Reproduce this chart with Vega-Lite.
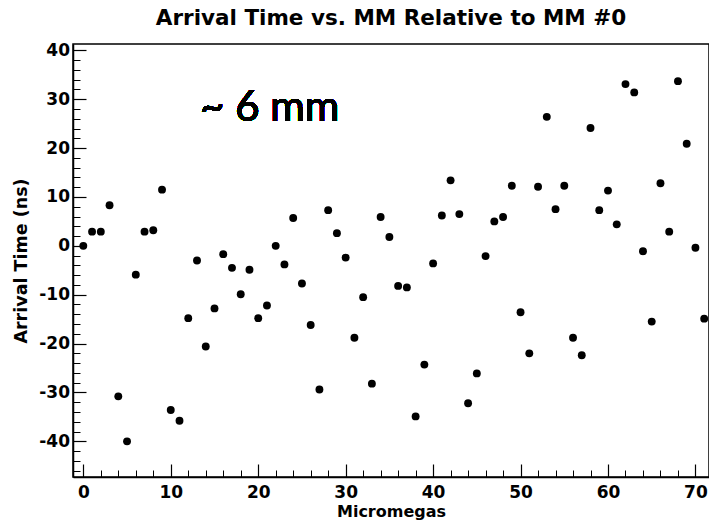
{
  "$schema": "https://vega.github.io/schema/vega-lite/v6.json",
  "width": 636,
  "height": 433,
  "autosize": "none",
  "padding": {"left": 73, "top": 44, "right": 0, "bottom": 45},
  "background": "white",
  "config": {
    "view": {"stroke": "black", "strokeWidth": 1.5},
    "axis": {"grid": false, "labelFlush": false, "labelOverlap": false, "labelBound": false, "tickColor": "black", "domainColor": "black", "labelColor": "black", "titleColor": "black"}
  },
  "title": {"text": "Arrival Time vs. MM Relative to MM #0", "font": "DejaVu Sans", "fontWeight": "bold", "fontSize": 21.5, "color": "black", "anchor": "middle", "offset": 12},
  "data": {"values": [
    {"mm": 0, "t": 0.0}, {"mm": 1, "t": 2.9}, {"mm": 2, "t": 2.9}, {"mm": 3, "t": 8.3},
    {"mm": 4, "t": -30.8}, {"mm": 5, "t": -40.0}, {"mm": 6, "t": -5.9}, {"mm": 7, "t": 2.9},
    {"mm": 8, "t": 3.2}, {"mm": 9, "t": 11.5}, {"mm": 10, "t": -33.6}, {"mm": 11, "t": -35.8},
    {"mm": 12, "t": -14.8}, {"mm": 13, "t": -3.0}, {"mm": 14, "t": -20.6}, {"mm": 15, "t": -12.8},
    {"mm": 16, "t": -1.7}, {"mm": 17, "t": -4.5}, {"mm": 18, "t": -9.9}, {"mm": 19, "t": -4.9},
    {"mm": 20, "t": -14.8}, {"mm": 21, "t": -12.2}, {"mm": 22, "t": 0.0}, {"mm": 23, "t": -3.8},
    {"mm": 24, "t": 5.7}, {"mm": 25, "t": -7.7}, {"mm": 26, "t": -16.2}, {"mm": 27, "t": -29.4},
    {"mm": 28, "t": 7.3}, {"mm": 29, "t": 2.6}, {"mm": 30, "t": -2.4}, {"mm": 31, "t": -18.8},
    {"mm": 32, "t": -10.5}, {"mm": 33, "t": -28.2}, {"mm": 34, "t": 5.9}, {"mm": 35, "t": 1.8},
    {"mm": 36, "t": -8.2}, {"mm": 37, "t": -8.5}, {"mm": 38, "t": -34.9}, {"mm": 39, "t": -24.3},
    {"mm": 40, "t": -3.6}, {"mm": 41, "t": 6.2}, {"mm": 42, "t": 13.4}, {"mm": 43, "t": 6.5},
    {"mm": 44, "t": -32.2}, {"mm": 45, "t": -26.1}, {"mm": 46, "t": -2.1}, {"mm": 47, "t": 5.0},
    {"mm": 48, "t": 5.9}, {"mm": 49, "t": 12.3}, {"mm": 50, "t": -13.6}, {"mm": 51, "t": -22.0},
    {"mm": 52, "t": 12.1}, {"mm": 53, "t": 26.4}, {"mm": 54, "t": 7.5}, {"mm": 55, "t": 12.3},
    {"mm": 56, "t": -18.8}, {"mm": 57, "t": -22.4}, {"mm": 58, "t": 24.1}, {"mm": 59, "t": 7.3},
    {"mm": 60, "t": 11.3}, {"mm": 61, "t": 4.4}, {"mm": 62, "t": 33.1}, {"mm": 63, "t": 31.4},
    {"mm": 64, "t": -1.1}, {"mm": 65, "t": -15.5}, {"mm": 66, "t": 12.8}, {"mm": 67, "t": 2.9},
    {"mm": 68, "t": 33.7}, {"mm": 69, "t": 20.9}, {"mm": 70, "t": -0.4}, {"mm": 71, "t": -14.9}
  ]},
  "layer": [
    {
      "mark": {"type": "point", "filled": true, "opacity": 0, "size": 1},
      "encoding": {
        "x": {"field": "mm", "type": "quantitative", "scale": {"domain": [-1.18, 71.55], "nice": false, "zero": false},
              "axis": {"orient": "bottom", "values": [2,4,6,8,12,14,16,18,22,24,26,28,32,34,36,38,42,44,46,48,52,54,56,58,62,64,66,68], "labels": false, "domain": false, "tickSize": -7, "tickWidth": 1, "title": null}},
        "y": {"field": "t", "type": "quantitative", "scale": {"domain": [-47.3, 41.3], "nice": false, "zero": false},
              "axis": {"orient": "left", "values": [-46,-44,-42,-38,-36,-34,-32,-28,-26,-24,-22,-18,-16,-14,-12,-8,-6,-4,-2,2,4,6,8,12,14,16,18,22,24,26,28,32,34,36,38], "labels": false, "domain": false, "tickSize": -7, "tickWidth": 1, "title": null}}
      }
    },
    {
      "mark": {"type": "point", "filled": true, "color": "black", "opacity": 1, "size": 62, "strokeWidth": 0},
      "encoding": {
        "x": {"field": "mm", "type": "quantitative", "scale": {"domain": [-1.18, 71.55], "nice": false, "zero": false},
              "axis": {"orient": "bottom", "values": [0,10,20,30,40,50,60,70], "labelExpr": "toString(datum.value)", "tickSize": -13, "tickWidth": 1.2, "domain": true, "domainWidth": 1.5,
                       "labelFont": "DejaVu Sans", "labelFontWeight": "bold", "labelFontSize": 17, "labelPadding": 20,
                       "title": "Micromegas", "titleFont": "DejaVu Sans", "titleFontWeight": "bold", "titleFontSize": 16, "titlePadding": 3}},
        "y": {"field": "t", "type": "quantitative", "scale": {"domain": [-47.3, 41.3], "nice": false, "zero": false},
              "axis": {"orient": "left", "values": [-40,-30,-20,-10,0,10,20,30,40], "labelExpr": "toString(datum.value)", "tickSize": -13, "tickWidth": 1.2, "domain": true, "domainWidth": 1.5,
                       "labelFont": "DejaVu Sans", "labelFontWeight": "bold", "labelFontSize": 17, "labelPadding": 16.5,
                       "title": "Arrival Time (ns)", "titleFont": "DejaVu Sans", "titleFontWeight": "bold", "titleFontSize": 17.5, "titlePadding": 8}}
      }
    },
    {
      "mark": {"type": "text", "text": "~ 6 mm", "font": "Lato", "fontSize": 42, "fontWeight": "normal", "align": "left", "baseline": "alphabetic", "color": "black"},
      "encoding": {
        "x": {"datum": 13.35, "type": "quantitative", "axis": null},
        "y": {"datum": 25.5, "type": "quantitative", "axis": null}
      }
    }
  ],
  "resolve": {"axis": {"x": "independent", "y": "independent"}}
}
